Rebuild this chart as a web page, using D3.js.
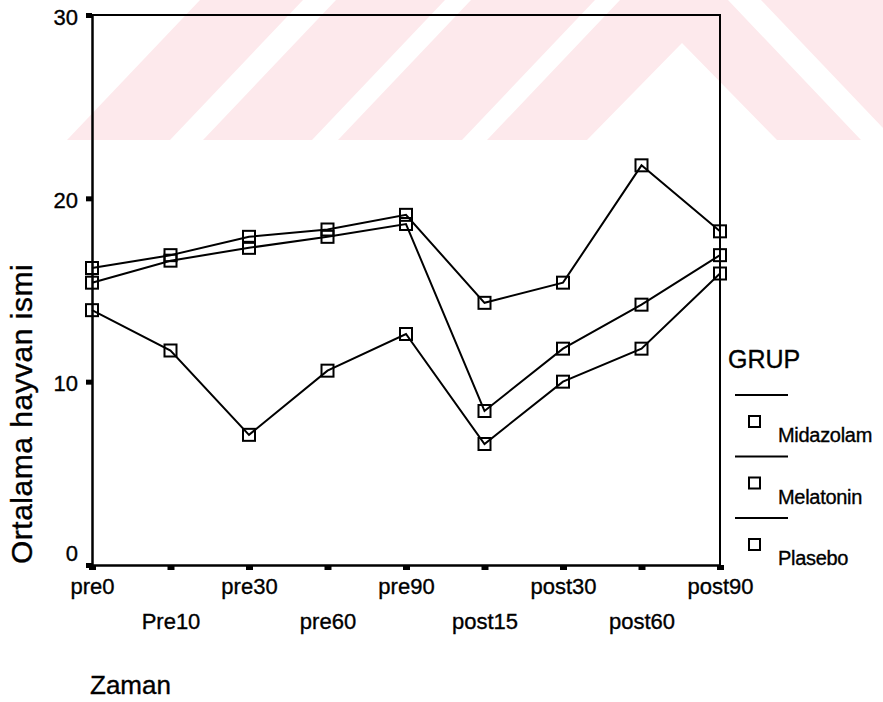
<!DOCTYPE html>
<html>
<head>
<meta charset="utf-8">
<script src="https://cdn.jsdelivr.net/npm/d3@7"></script>
<style>
  body { margin: 0; background: #fff; }
  text { font-family: "Liberation Sans", Arial, sans-serif; fill: #000; stroke: #000; stroke-width: 0.35px; }
</style>
</head>
<body>
<div id="chart"></div>
<script>
// data
const categories = ["pre0", "Pre10", "pre30", "pre60", "pre90", "post15", "post30", "post60", "post90"];
const groups = ["Midazolam", "Melatonin", "Plasebo"];
const midazolam = [16.2, 16.9, 17.9, 18.3, 19.1, 14.3, 15.4, 21.8, 18.2];
const melatonin = [15.4, 16.6, 17.3, 17.9, 18.6, 8.4, 11.8, 14.2, 16.9];
const plasebo = [13.9, 11.7, 7.1, 10.6, 12.6, 6.6, 10.0, 11.8, 15.9];
const yTicks = [0, 10, 20, 30];

const margin = { top: 15, right: 163, bottom: 137, left: 92 };
const outerWidth = 883;
const outerHeight = 702;
const width = outerWidth - margin.left - margin.right;
const height = outerHeight - margin.top - margin.bottom;

const svg = d3.select("#chart").append("svg")
  .attr("width", outerWidth)
  .attr("height", outerHeight);

// faint watermark in the scan
const wm = svg.append("g").attr("fill", "#fde9ec");
const wmShapes = [
  [[67,140],[200,0],[303,0],[170,140]],
  [[203,140],[336,0],[445,0],[312,140]],
  [[338,140],[471,0],[595,0],[462,140]],
  [[487,140],[620,0],[728,0],[861,140],[777,140],[682,43],[587,140]],
  [[761,0],[883,0],[883,128]]
];
wm.selectAll("polygon").data(wmShapes).enter().append("polygon")
  .attr("points", d => d.map(p => p.join(",")).join(" "));

const g = svg.append("g")
  .attr("transform", `translate(${margin.left}, ${margin.top})`);

const x = d3.scalePoint()
  .domain(categories)
  .range([0, width]);

const y = d3.scaleLinear()
  .domain([0, 30])
  .range([height, 0]);

// frame (top + right)
g.append("path")
  .attr("d", `M0,0H${width}V${height}`)
  .attr("fill", "none")
  .attr("stroke", "#000")
  .attr("stroke-width", 2);

// axes
const xAxis = g.append("g")
  .attr("transform", `translate(0, ${height})`)
  .call(d3.axisBottom(x).tickSizeInner(5).tickSizeOuter(0).tickPadding(8));
xAxis.select(".domain").attr("stroke-width", 2.5);
xAxis.selectAll(".tick line").attr("stroke-width", 7);
xAxis.selectAll(".tick text")
  .style("font-size", "22px")
  .attr("y", (d, i) => i % 2 === 0 ? 13 : 48);

const yAxis = g.append("g")
  .call(d3.axisLeft(y).tickValues(yTicks).tickSizeInner(6).tickSizeOuter(0).tickPadding(8));
yAxis.select(".domain").attr("stroke-width", 2.5);
yAxis.selectAll(".tick line").attr("stroke-width", 5);
yAxis.selectAll(".tick text")
  .style("font-size", "22px")
  .attr("dy", d => d === 0 ? "-0.2em" : "0.42em");

// lines
const series = [midazolam, melatonin, plasebo];
const line = d3.line()
  .x((d, i) => x(categories[i]))
  .y(d => y(d));

g.selectAll(".series")
  .data(series)
  .enter()
  .append("path")
  .attr("class", "series")
  .attr("d", line)
  .attr("fill", "none")
  .attr("stroke", "#000")
  .attr("stroke-width", 2);

// square markers
series.forEach(s => {
  g.selectAll(null)
    .data(s)
    .enter()
    .append("rect")
    .attr("x", (d, i) => x(categories[i]) - 6)
    .attr("y", d => y(d) - 6)
    .attr("width", 12)
    .attr("height", 12)
    .attr("fill", "none")
    .attr("stroke", "#000")
    .attr("stroke-width", 2);
});

// axis titles
svg.append("text")
  .attr("transform", "rotate(-90)")
  .attr("x", -564)
  .attr("y", 32)
  .style("font-size", "30px")
  .style("letter-spacing", "0.5px")
  .text("Ortalama hayvan ismi");

svg.append("text")
  .attr("x", 90)
  .attr("y", 694)
  .style("font-size", "26px")
  .text("Zaman");

// legend
svg.append("text")
  .attr("x", 728)
  .attr("y", 368)
  .style("font-size", "25px")
  .text("GRUP");

const legend = svg.selectAll(".legend")
  .data(groups)
  .enter()
  .append("g")
  .attr("class", "legend")
  .attr("transform", (d, i) => `translate(735, ${395 + i * 61.5})`);

legend.append("line")
  .attr("x1", 0)
  .attr("x2", 53)
  .attr("stroke", "#000")
  .attr("stroke-width", 2);

legend.append("rect")
  .attr("x", 14)
  .attr("y", 21)
  .attr("width", 11)
  .attr("height", 11)
  .attr("fill", "none")
  .attr("stroke", "#000")
  .attr("stroke-width", 2);

legend.append("text")
  .attr("x", 43)
  .attr("y", 47)
  .style("font-size", "20px")
  .style("letter-spacing", "-0.3px")
  .text(d => d);
</script>
</body>
</html>
